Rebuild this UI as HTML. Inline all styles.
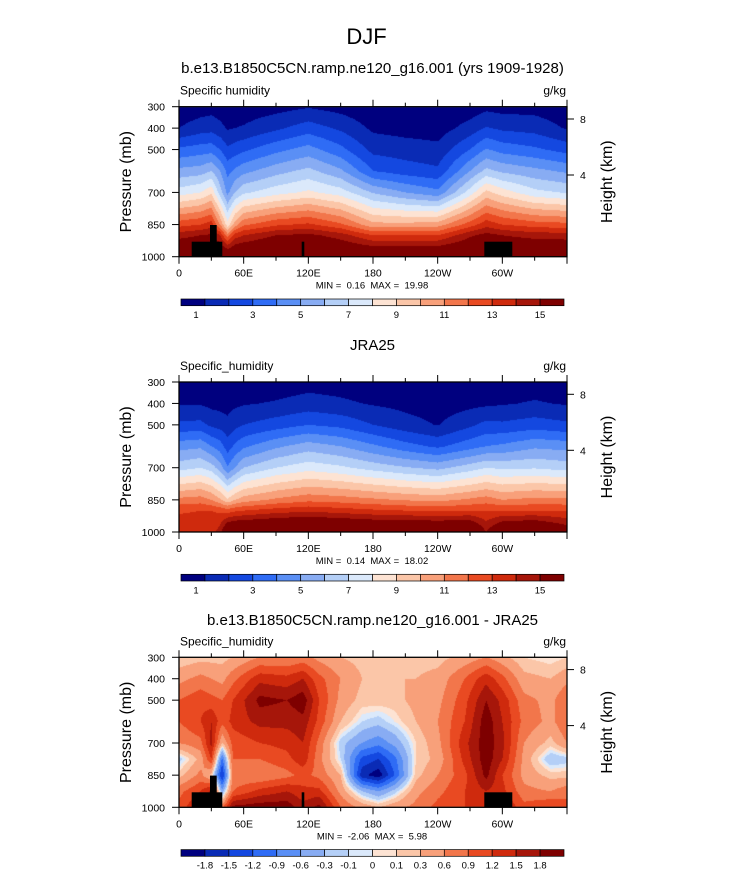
<!DOCTYPE html>
<html><head><meta charset="utf-8"><style>
body{margin:0;background:#fff;width:733px;height:873px;position:relative;overflow:hidden;font-family:"Liberation Sans",Arial,sans-serif;}
.t{position:absolute;white-space:nowrap;color:#000;}
canvas,svg{position:absolute;left:0;top:0;}
</style></head><body>
<svg id="svg" width="733" height="873"></svg>
<div class="t" style="left:0;width:733px;text-align:center;top:24px;font-size:22px">DJF</div>
<div class="t" style="left:0;width:733px;text-align:center;top:60px;font-size:15px;padding-left:6px">b.e13.B1850C5CN.ramp.ne120_g16.001 (yrs 1909-1928)</div>
<div class="t" style="left:0;width:733px;text-align:center;top:337px;font-size:15px;padding-left:6px">JRA25</div>
<div class="t" style="left:0;width:733px;text-align:center;top:612px;font-size:15px;padding-left:6px">b.e13.B1850C5CN.ramp.ne120_g16.001 - JRA25</div>
<script>
// ---- data ----
const lons1=[0,20,30,38,45,52,60,90,120,150,180,210,240,270,285,300,330,360];
const pres1=[1000,900,850,700,600,500,400,300];
const q1=[[17,14.6,12.6,7.5,5.3,3.2,1.0,0.3],[17,15,13,8,5.5,3.5,1.5,0.5],[17,15.2,13.5,8.8,6,3.6,1.6,0.6],[17,14,11,6.5,5,3,1.3,0.45],[17,11.5,8.4,4.7,3.7,2.2,0.9,0.3],[17,13.5,10.5,6,4.2,2.5,1.0,0.35],[17,14,11.8,6.8,4.7,2.8,1.1,0.4],[17.5,15,12.8,7.6,5.6,3.7,1.8,0.6],[18,15.3,13.2,8.2,6.3,4.4,2.5,0.9],[17,14.5,12.2,7.5,5.2,3.3,1.8,0.6],[17,13,10.3,5.9,3,1.7,0.8,0.25],[17,13,10.3,5,2.5,1.5,0.6,0.2],[17,13,10.5,4.3,2.2,1.3,0.5,0.2],[17,14.8,12.5,7.5,5,3,1.4,0.4],[17,15.4,13.6,9.3,6.3,4.1,2.1,0.7],[17,15,13,8.5,5.8,3.6,1.8,0.6],[17,14.6,12.5,7.3,5.3,3.2,1.6,0.6],[17,14.5,12.3,6.9,4.8,2.6,0.9,0.3]];
const q2=[[13.5,12.9,11.3,6.6,4.6,2.2,0.9,0.3],[13.5,13,11.5,7,4.8,2.3,0.9,0.3],[13.5,13,11,6.5,4,1.8,0.7,0.2],[14.5,12.8,10.2,5.5,3.5,1.6,0.65,0.25],[17,12.5,9.2,4.1,2.5,1.3,0.6,0.3],[17.5,12.8,10,5,3.2,1.7,0.8,0.3],[17.5,13,10.5,6,3.8,2.0,0.9,0.3],[17.8,13.5,11.2,7,4.8,2.5,1.1,0.4],[18,13.8,11.7,7.6,5.5,3,1.4,0.6],[17.8,13.5,11.5,7.2,5,2.7,1.2,0.5],[17.5,13.2,11.2,6.6,4.2,2.0,0.9,0.3],[17.5,13,10.9,6.1,3.4,1.4,0.7,0.25],[17.5,12.8,10.7,5.7,2.8,0.95,0.5,0.2],[17.5,13,11.2,6.5,3.6,1.8,0.7,0.3],[15,13,11.5,7,4,2.3,0.8,0.4],[17,13,11,6.8,4.2,2.2,0.9,0.4],[17.5,13,11.3,6.9,4.8,2.5,1.1,0.5],[16,12.9,11.3,6.6,4.6,2.2,0.9,0.3]];
const lons3=[0,20,30,40,50,75,100,115,130,150,170,185,200,220,240,265,285,300,320,345,360];
const pres3=[1000,925,850,775,700,600,500,400,300];
const q3=[[1.0,0.8,0.2,-0.2,0.6,0.9,0.9,0.5,0.1],[1.6,1.2,0.7,0.4,0.8,1.2,1.1,0.7,0.2],[1.4,1.6,0.2,1.2,1.6,1.5,1.0,0.6,0.2],[0.8,-0.5,-1.6,-1.0,0.3,1.0,0.9,0.5,0.2],[1.9,0.9,0.7,0.9,1.0,1.3,1.2,0.8,0.3],[2,1.3,0.6,0.9,1.2,1.6,1.9,1.4,0.6],[2,1.5,0.8,1.1,1.3,1.6,1.8,1.3,0.6],[1.6,1.3,1.0,1.4,1.5,1.7,2.0,1.5,0.7],[1.9,1.3,0.8,0.7,0.8,1.1,1.2,1.0,0.5],[0.9,0.5,0.3,-0.1,-0.2,0.3,0.5,0.6,0.3],[0.5,-0.3,-1.7,-1.3,-0.6,-0.1,0.2,0.3,0.2],[0.3,-0.6,-2.0,-1.5,-0.8,-0.2,0.2,0.3,0.2],[0.5,-0.2,-1.2,-1.0,-0.5,0.0,0.2,0.3,0.2],[0.7,0.5,0.2,0.1,0.1,0.3,0.4,0.3,0.2],[1.0,0.8,0.6,0.4,0.5,0.6,0.5,0.4,0.2],[1.2,1.2,1.1,1.3,1.4,1.2,1.1,0.9,0.4],[1.5,1.5,1.9,2.0,2.0,2.0,1.8,1.4,0.6],[1.6,1.3,1.2,1.5,1.6,1.5,1.4,1.0,0.4],[1.0,0.7,0.5,0.5,0.6,0.8,0.7,0.4,0.1],[1.2,0.6,0.2,-0.3,0.2,0.5,0.5,0.3,0.0],[1.0,0.8,0.2,-0.2,0.6,0.9,0.9,0.5,0.1]];
const lev1=[1,2,3,4,5,6,7,8,9,10,11,12,13,14,15];
const lev3=[-1.8,-1.5,-1.2,-0.9,-0.6,-0.3,-0.1,0,0.1,0.3,0.6,0.9,1.2,1.5,1.8];
const cbLabels1=["1","3","5","7","9","11","13","15"];
const cbLabels3=lev3.map(String);
const xTickLabels=["0","60E","120E","180","120W","60W"];
const yTickLabels=[300,400,500,700,850,1000];
const minmax=[["0.16","19.98"],["0.14","18.02"],["-2.06","5.98"]];
const colors=["#00007f","#0a2bb5","#1448e0","#2f6cf5","#5a8ff5","#88acf3","#b4cff7","#dbe9fb","#fde3d3","#fbc6a8","#f8a07a","#f2764b","#e94a22","#cf2a0d","#a6160a","#7e0000"];

const X0=179,X1=567,PH=150;
const tops=[106.7,382,657.3];
const xs=l=>X0+(X1-X0)*l/360;
const ys=(p,top)=>top+PH*(p-300)/700;
const svg=document.getElementById('svg');
const NS='http://www.w3.org/2000/svg';
function mk(tag,at,name,par){const e=document.createElementNS(NS,tag);for(const k in at)e.setAttribute(k,at[k]);


(par||svg).appendChild(e);return e;}
function txt(x,y,s,size,anchor,name,rot){const e=mk('text',{x:x,y:y,'font-size':size,'text-anchor':anchor||'middle','font-family':'Liberation Sans, Arial, sans-serif'},name);if(rot)e.setAttribute('transform','rotate(-90 '+x+' '+y+')');e.textContent=s;return e;}
function interp(arr,v){let i=0;while(i<arr.length-2&&v>arr[i+1])i++;return [i,(v-arr[i])/(arr[i+1]-arr[i])];}
function interpDesc(arr,v){let i=0;while(i<arr.length-2&&v<arr[i+1])i++;return [i,(arr[i]-v)/(arr[i]-arr[i+1])];}
function field(lons,pres,q,levs,top,name){
  const cv=document.createElement('canvas');cv.width=733;cv.height=873;
  
  
  document.body.insertBefore(cv,svg);
  const ctx=cv.getContext('2d');
  const x0=Math.round(X0),x1=Math.round(X1),y0=Math.round(top),y1=Math.round(top+PH);
  for(let py=y0;py<y1;py++){const p=300+700*(py+0.5-top)/PH;const [j,fy]=interpDesc(pres,p);
    for(let px=x0;px<x1;px++){const l=360*(px+0.5-X0)/(X1-X0);const [i,fx]=interp(lons,l);
      const v=(q[i][j]*(1-fx)+q[i+1][j]*fx)*(1-fy)+(q[i][j+1]*(1-fx)+q[i+1][j+1]*fx)*fy;
      let k=0;while(k<levs.length&&v>=levs[k])k++;
      ctx.fillStyle=colors[k];ctx.fillRect(px,py,1,1);}}
}
const panels=[[lons1,pres1,q1,lev1],[lons1,pres1,q2,lev1],[lons3,pres3,q3,lev3]];
panels.forEach((pd,n)=>{
  const top=tops[n];
  field(pd[0],pd[1],pd[2],pd[3],top,'contour-field-'+(n+1));
  if(n!==1){
    [[191.7,222.3,241.7],[210,216.7,225],[301.7,304.3,241.7],[484.3,512.3,241.7]].forEach(r=>mk('rect',{x:r[0],y:r[2]-106.7+top,width:r[1]-r[0],height:256.7-r[2],fill:'#000'},'terrain-mask'));
  }
  mk('rect',{x:X0,y:top,width:X1-X0,height:PH,fill:'none',stroke:'#000','stroke-width':1.3},'plot-frame');
  for(let l=0;l<=360;l+=30){const x=xs(l),len=l%60?4:7;
    mk('line',{x1:x,x2:x,y1:top+PH,y2:top+PH+len,stroke:'#000'},'x-tick');
    mk('line',{x1:x,x2:x,y1:top,y2:top-len,stroke:'#000'},'x-tick-top');}
  xTickLabels.forEach((s,i)=>txt(xs(i*60),top+PH+20,s,10.5,'middle','x-tick-label'));
  yTickLabels.forEach(p=>{const y=ys(p,top);mk('line',{x1:X0,x2:X0-7,y1:y,y2:y,stroke:'#000'},'y-tick');txt(X0-14,y+4,String(p),10.5,'end','y-tick-label');});
  [[8,12.3],[4,68.3]].forEach(h=>{const y=top+h[1];mk('line',{x1:X1,x2:X1+7,y1:y,y2:y,stroke:'#000'},'height-tick');txt(X1+13,y+4,String(h[0]),10.5,'start','height-tick-label');});
  txt(131,top+75,'Pressure (mb)',16,'middle','y-axis-title',true);
  txt(612,top+75,'Height (km)',16,'middle','height-axis-title',true);
  txt(X0+1,top-12,n===0?'Specific humidity':'Specific_humidity',12,'start','variable-label');
  txt(X1-1,top-12,'g/kg',12,'end','units-label');
  const mm=txt(372,top+PH+32,'MIN =  '+minmax[n][0]+'  MAX =  '+minmax[n][1],9.5,'middle','min-max-label');
  mm.setAttribute('style','white-space:pre');
  // colorbar
  const cy=top+192.3,cw=(564-181)/16;
  colors.forEach((c,k)=>mk('rect',{x:181+k*cw,y:cy,width:cw,height:6.7,fill:c,stroke:'#000','stroke-width':0.7},'colorbar-box'));
  if(n<2){cbLabels1.forEach((s,i)=>txt(i===0?196:181+(2*i+1)*cw,cy+19,s,9.5,'middle','colorbar-label'));}
  else cbLabels3.forEach((s,i)=>txt(181+(i+1)*cw,cy+19,s,9.5,'middle','colorbar-label'));
});
</script>
</body></html>
